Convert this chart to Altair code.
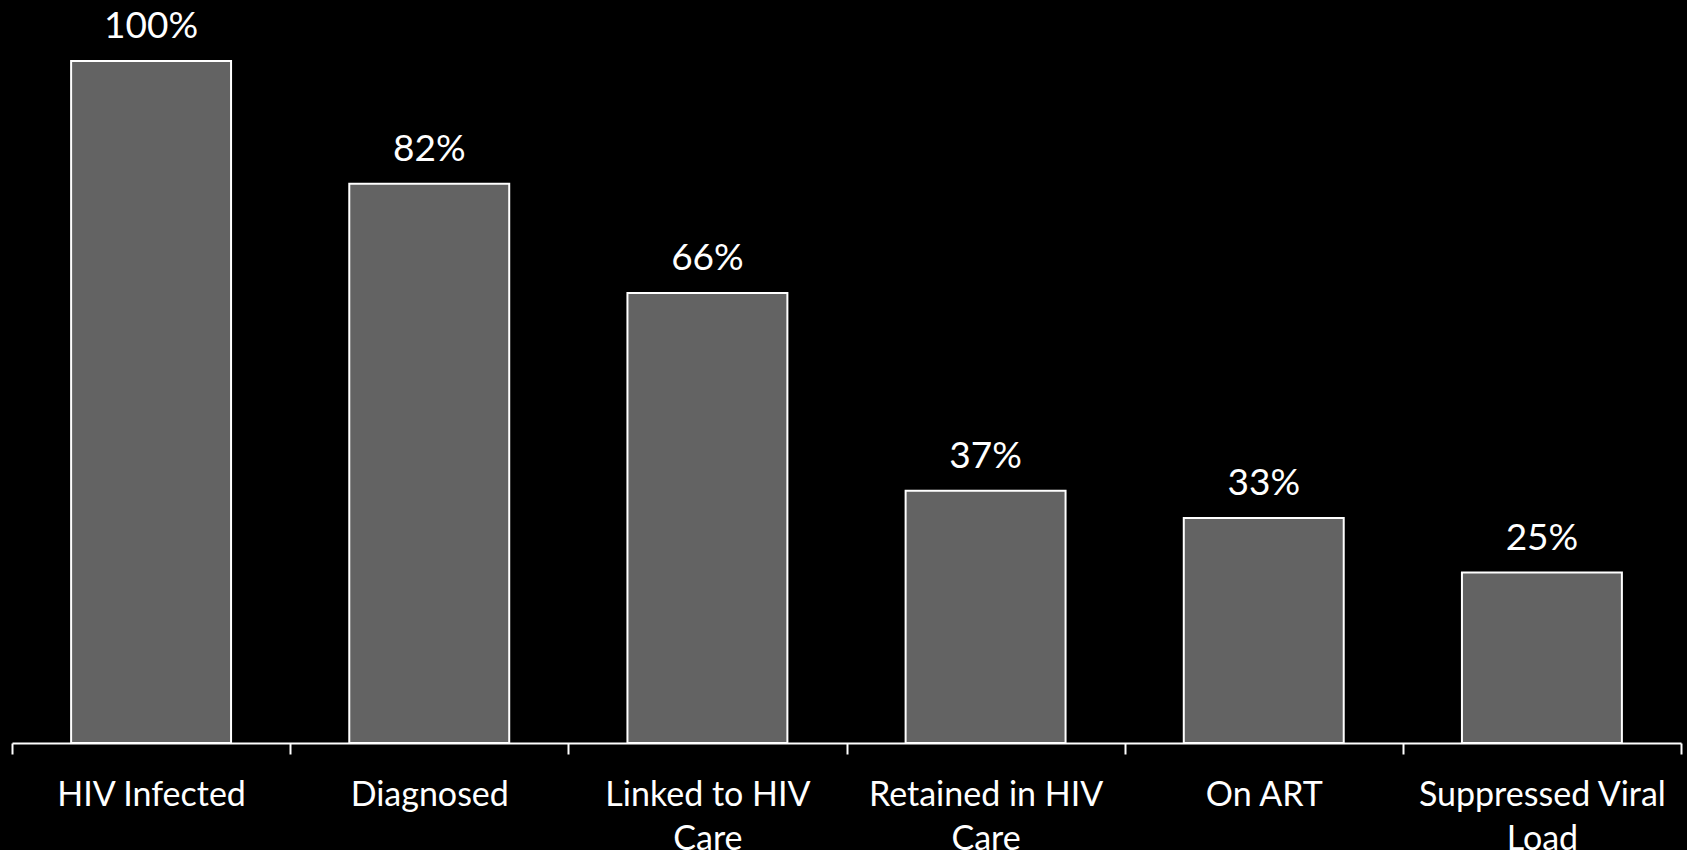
import altair as alt
import pandas as pd

# HIV care continuum: share of people at each stage
stages = [
    "HIV Infected",
    "Diagnosed",
    "Linked to HIV\nCare",
    "Retained in HIV\nCare",
    "On ART",
    "Suppressed Viral\nLoad",
]
percent = [100, 82, 66, 37, 33, 25]

df = pd.DataFrame({"stage": stages, "pct": percent})
df["frac"] = df["pct"] / 100
df["label"] = df["pct"].astype(str) + "%"

FONT = "Lato"

x = alt.X(
    "stage:N",
    sort=stages,
    title=None,
    scale=alt.Scale(paddingInner=0, paddingOuter=0),
    axis=alt.Axis(
        tickBand="extent",
        domainColor="white",
        domainWidth=2,
        tickColor="white",
        tickWidth=2,
        tickSize=11,
        labelAngle=0,
        labelColor="white",
        labelFont=FONT,
        labelFontSize=34,
        labelLimit=0,
        labelLineHeight=44,
        labelPadding=24,
        labelBaseline="top",
        labelExpr="split(datum.label, '\\n')",
    ),
)
y = alt.Y("frac:Q", scale=alt.Scale(domain=[0, 1]), axis=None)

bars = alt.Chart(df).mark_bar(
    width={"band": 0.575},
    color="#636363",
    stroke="white",
    strokeWidth=2,
).encode(x=x, y=y)

labels = alt.Chart(df).mark_text(
    font=FONT,
    fontSize=37,
    color="white",
    baseline="alphabetic",
    dy=-23,
).encode(x=x, y=y, text="label:N")

chart = (
    alt.layer(bars, labels)
    .properties(
        width=1669,
        height=682,
        background="black",
        autosize=alt.AutoSizeParams(type="none"),
        padding={"left": 12, "top": 61, "right": 6, "bottom": 107},
    )
    .configure_view(stroke=None)
)

chart.save("out.html", embed_options={"renderer": "svg", "actions": False})
